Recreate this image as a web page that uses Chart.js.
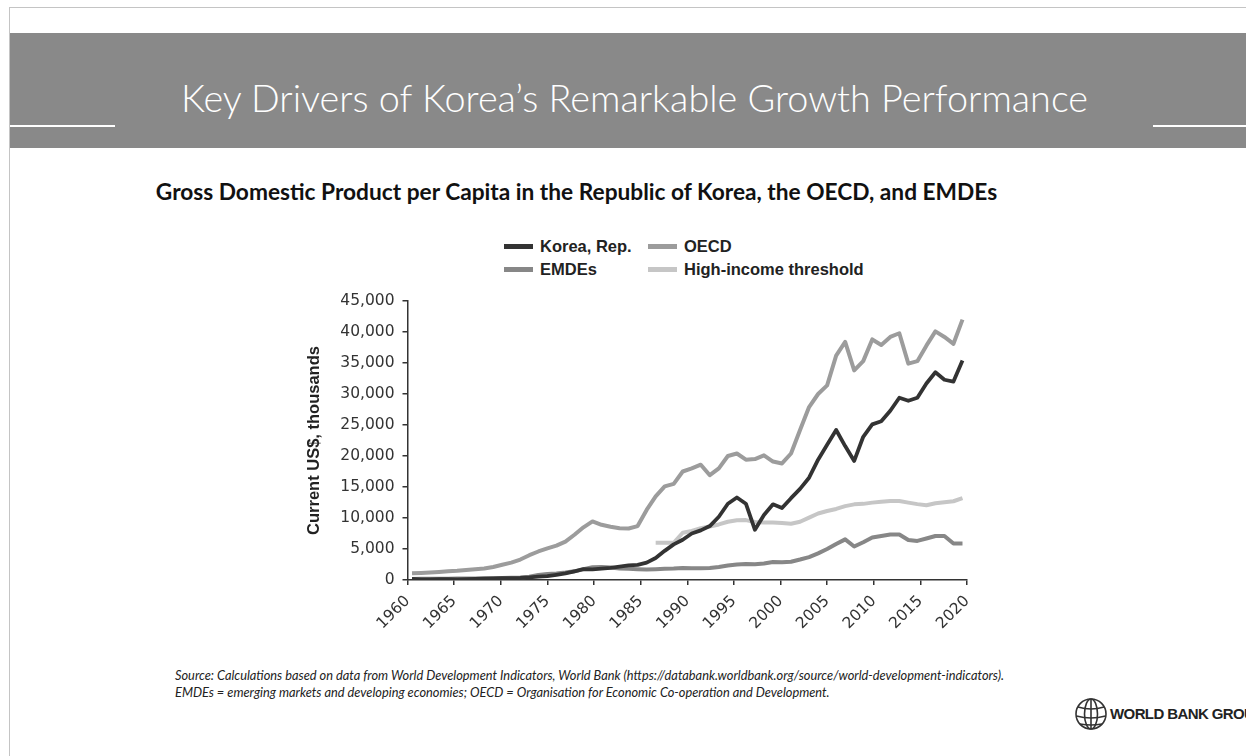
<!DOCTYPE html>
<html>
<head>
<meta charset="utf-8">
<script src="https://cdn.jsdelivr.net/npm/chart.js@4/dist/chart.umd.min.js"></script>
<style>
  body { margin: 0; width: 1246px; height: 756px; overflow: hidden; background: #fff; position: relative; font-family: 'Lato', sans-serif; }
  .frame { position: absolute; left: 9px; top: 7px; width: 1300px; height: 800px; border-left: 1px solid #c4c4c4; border-top: 1px solid #c4c4c4; }
  .band { position: absolute; left: 10px; top: 33px; width: 1236px; height: 115px; background: #898989; }
  .rule { position: absolute; top: 125px; height: 2px; background: #fff; }
  .title { position: absolute; left: 0; width: 1269px; top: 75px; text-align: center; color: #fff; font-family: 'Lato', sans-serif; font-weight: 300; font-size: 37.8px; line-height: 46px; white-space: nowrap; }
  .subtitle { position: absolute; left: 0; width: 1153px; top: 178px; text-align: center; color: #111; font-family: 'Lato', sans-serif; font-weight: bold; font-size: 22.7px; line-height: 27px; white-space: nowrap; }
  .legend { position: absolute; font-family: 'Liberation Sans', Arial, sans-serif; font-weight: bold; font-size: 16.5px; color: #222; }
  .legend .item { position: absolute; white-space: nowrap; line-height: 20px; }
  .legend .sw { display: inline-block; width: 29px; height: 5px; vertical-align: middle; margin-right: 7px; position: relative; top: -1px; }
  #wrap { position: absolute; left: 280px; top: 280px; width: 720px; height: 350px; }
  .note { position: absolute; left: 175px; top: 667px; font-family: 'Lato', sans-serif; font-style: italic; font-size: 12.8px; line-height: 16.5px; color: #222; white-space: nowrap; }
  .logo { position: absolute; left: 1074px; top: 697px; }
  .logotext { position: absolute; left: 1110px; top: 705px; font-family: 'Liberation Sans', Arial, sans-serif; font-weight: bold; font-size: 15px; letter-spacing: -0.6px; color: #222; white-space: nowrap; }
</style>
</head>
<body>
<div class="frame"></div>
<div class="band"></div>
<div class="rule" style="left:10px; width:105px;"></div>
<div class="rule" style="left:1153px; width:93px;"></div>
<div class="title">Key Drivers of Korea’s Remarkable Growth Performance</div>
<div class="subtitle">Gross Domestic Product per Capita in the Republic of Korea, the OECD, and EMDEs</div>
<div class="legend" id="legend"></div>
<div id="wrap"><canvas id="mycanvas" width="720" height="350"></canvas></div>
<div class="note">Source: Calculations based on data from World Development Indicators, World Bank (https://databank.worldbank.org/source/world-development-indicators).<br>EMDEs = emerging markets and developing economies; OECD = Organisation for Economic Co-operation and Development.</div>
<svg class="logo" width="34" height="34" viewBox="0 0 34 34">
  <g fill="none" stroke="#333" stroke-width="1.6">
    <circle cx="17" cy="17" r="15"/>
    <ellipse cx="17" cy="17" rx="6.5" ry="15"/>
    <line x1="17" y1="2" x2="17" y2="32"/>
    <path d="M4 10 Q17 14 30 10"/>
    <path d="M2.5 19 Q17 23 31.5 19"/>
    <path d="M6 27 Q17 29 28 27"/>
  </g>
</svg>
<div class="logotext">WORLD BANK GROUP</div>
<script>
const years = [1960, 1961, 1962, 1963, 1964, 1965, 1966, 1967, 1968, 1969,
  1970, 1971, 1972, 1973, 1974, 1975, 1976, 1977, 1978, 1979,
  1980, 1981, 1982, 1983, 1984, 1985, 1986, 1987, 1988, 1989,
  1990, 1991, 1992, 1993, 1994, 1995, 1996, 1997, 1998, 1999,
  2000, 2001, 2002, 2003, 2004, 2005, 2006, 2007, 2008, 2009,
  2010, 2011, 2012, 2013, 2014, 2015, 2016, 2017, 2018, 2019,
  2020, 2021];

const koreaGdp = [160, 95, 105, 145, 125, 110, 135, 165, 200, 245,
  280, 305, 325, 410, 560, 620, 830, 1060, 1400, 1750,
  1700, 1850, 1950, 2150, 2350, 2450, 2800, 3550, 4700, 5750,
  6500, 7500, 8000, 8700, 10200, 12300, 13300, 12300, 8100, 10500,
  12200, 11600, 13200, 14700, 16500, 19400, 21800, 24200, 21600, 19200,
  23100, 25100, 25600, 27300, 29400, 28900, 29400, 31700, 33500, 32300,
  32000, 35400];

const oecdGdp = [1080, 1130, 1200, 1290, 1400, 1480, 1600, 1720, 1850, 2100,
  2450, 2800, 3300, 4000, 4600, 5100, 5550, 6200, 7300, 8500,
  9450, 8900, 8600, 8350, 8300, 8700, 11300, 13500, 15100, 15500,
  17500, 18000, 18600, 16900, 18000, 20000, 20400, 19400, 19500, 20100,
  19100, 18800, 20400, 24200, 27900, 30000, 31400, 36200, 38400, 33800,
  35300, 38800, 37900, 39200, 39800, 34900, 35300, 37800, 40100, 39200,
  38100, 42000];

const emdeGdp = [180, 185, 190, 200, 215, 230, 245, 255, 270, 295,
  320, 350, 400, 520, 800, 950, 1050, 1200, 1400, 1750,
  2050, 2100, 2000, 1850, 1800, 1750, 1700, 1750, 1800, 1850,
  1950, 1900, 1900, 1950, 2100, 2350, 2500, 2600, 2550, 2650,
  2900, 2850, 2950, 3300, 3700, 4300, 5000, 5800, 6550, 5400,
  6100, 6850, 7100, 7350, 7350, 6450, 6300, 6700, 7100, 7100,
  5900, 5900];

const highIncomeThreshold = [null, null, null, null, null, null, null, null, null, null,
  null, null, null, null, null, null, null, null, null, null,
  null, null, null, null, null, null, null, 6000, 6000, 6000,
  7620, 7910, 8360, 8630, 8960, 9390, 9650, 9660, 9360, 9270,
  9270, 9210, 9080, 9390, 10070, 10730, 11120, 11460, 11910, 12200,
  12280, 12480, 12620, 12750, 12740, 12480, 12240, 12060, 12380, 12540,
  12700, 13210];

const xTickYears = [1960, 1965, 1970, 1975, 1980, 1985, 1990, 1995, 2000, 2005, 2010, 2015, 2020];

const seriesNames = ['Korea, Rep.', 'OECD', 'EMDEs', 'High-income threshold'];
const seriesColors = ['#333333', '#9c9c9c', '#878787', '#c6c6c6'];

Chart.defaults.font.family = "'DejaVu Sans', sans-serif";
Chart.defaults.color = '#333';

const axisGrid = { drawOnChartArea: false, tickLength: 5, color: '#333', lineWidth: 1.5 };
const axisBorder = { display: true, color: '#333', width: 1.5 };

const chart = new Chart(document.getElementById('mycanvas'), {
  type: 'line',
  data: {
    labels: years,
    datasets: [
      { label: seriesNames[0], data: koreaGdp, borderColor: seriesColors[0], borderWidth: 3.8 },
      { label: seriesNames[1], data: oecdGdp, borderColor: seriesColors[1], borderWidth: 4 },
      { label: seriesNames[2], data: emdeGdp, borderColor: seriesColors[2], borderWidth: 4 },
      { label: seriesNames[3], data: highIncomeThreshold, borderColor: seriesColors[3], borderWidth: 4 }
    ]
  },
  options: {
    responsive: false,
    animation: false,
    devicePixelRatio: 1,
    layout: { padding: { left: 21, top: 21, right: 33, bottom: 0 } },
    elements: {
      point: { radius: 0 },
      line: { tension: 0, borderJoinStyle: 'round' }
    },
    plugins: { legend: { display: false }, tooltip: { enabled: false } },
    scales: {
      x: { type: 'category', display: false, offset: true },
      year: {
        type: 'linear',
        axis: 'x',
        position: 'bottom',
        min: 1960,
        max: 2020,
        afterBuildTicks: (scale) => { scale.ticks = xTickYears.map(v => ({ value: v })); },
        afterFit: (scale) => { scale.height = 50; },
        grid: axisGrid,
        border: axisBorder,
        ticks: {
          minRotation: 45,
          maxRotation: 45,
          autoSkip: false,
          padding: 7,
          color: '#333',
          font: { size: 15.5 },
          callback: (v) => String(v)
        }
      },
      y: {
        min: 0,
        max: 45000,
        afterFit: (scale) => { scale.width = 106.5; },
        grid: axisGrid,
        border: axisBorder,
        ticks: {
          stepSize: 5000,
          padding: 8,
          color: '#333',
          font: { size: 15.5 },
          callback: (v) => v.toLocaleString('en-US')
        },
        title: {
          display: true,
          text: 'Current US$, thousands',
          color: '#222',
          font: { family: "'Liberation Sans', Arial, sans-serif", size: 16.5, weight: 'bold' },
          padding: { top: 4, bottom: 4 }
        }
      }
    }
  }
});

// legend in two rows, two columns like the original
const legend = document.getElementById('legend');
const legendSpots = [[504, 236], [648, 236], [504, 259], [648, 259]];
chart.data.datasets.forEach((ds, i) => {
  const item = document.createElement('div');
  item.className = 'item';
  item.style.left = legendSpots[i][0] + 'px';
  item.style.top = legendSpots[i][1] + 'px';
  item.innerHTML = '<span class="sw" style="background:' + ds.borderColor + '"></span>' + ds.label;
  legend.appendChild(item);
});
</script>
</body>
</html>
